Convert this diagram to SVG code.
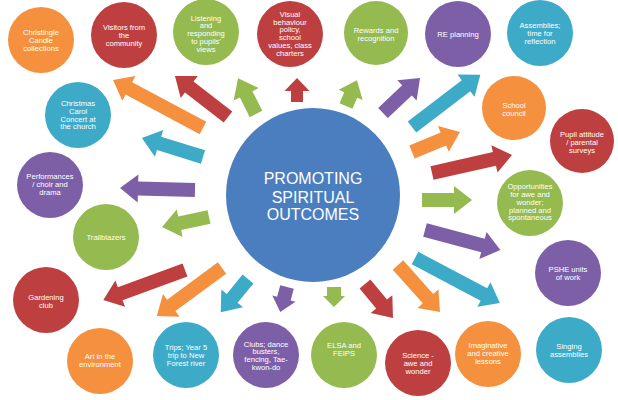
<svg xmlns="http://www.w3.org/2000/svg" width="618" height="400" viewBox="0 0 618 400">
<style>
.o{fill:#F5903E}.r{fill:#BE3F40}.g{fill:#95BA50}.p{fill:#7D5FA8}.t{fill:#3DAAC8}.b{fill:#4A7EBF}
text{font-family:"Liberation Sans",Arial,sans-serif;fill:#fff;text-anchor:middle}
.s{font-size:7.6px}
.c{font-size:16px}
</style>
<rect width="618" height="400" fill="#fff"/>
<g id="connectors">
<polygon class="o" points="0,-7 84,-7 84,-14 102,0 84,14 84,7 0,7" transform="translate(203,128) rotate(-151.9)"/>
<polygon class="r" points="0,-7 49,-7 49,-14 67,0 49,14 49,7 0,7" transform="translate(228,117) rotate(-142.3)"/>
<polygon class="g" points="0,-7 22,-7 22,-14 40,0 22,14 22,7 0,7" transform="translate(256,114) rotate(-116.6)"/>
<polygon class="r" points="0,-6 11,-6 11,-12.5 24,0 11,12.5 11,6 0,6" transform="translate(297,102) rotate(-90)"/>
<polygon class="g" points="0,-7 12,-7 12,-13 28,0 12,13 12,7 0,7" transform="translate(346,106) rotate(-67)"/>
<polygon class="p" points="0,-7 33,-7 33,-14 51,0 33,14 33,7 0,7" transform="translate(383,113) rotate(-43.4)"/>
<polygon class="t" points="0,-7 68,-7 68,-14 86,0 68,14 68,7 0,7" transform="translate(412,127) rotate(-37.4)"/>
<polygon class="o" points="0,-7 34,-7 34,-14 52,0 34,14 34,7 0,7" transform="translate(412,152) rotate(-22.6)"/>
<polygon class="r" points="0,-7 64,-7 64,-14 82,0 64,14 64,7 0,7" transform="translate(432,173) rotate(-12.7)"/>
<polygon class="g" points="0,-7 32,-7 32,-14 50,0 32,14 32,7 0,7" transform="translate(422,200)"/>
<polygon class="p" points="0,-7 60,-7 60,-14 78,0 60,14 60,7 0,7" transform="translate(425,230) rotate(14.9)"/>
<polygon class="t" points="0,-7 78,-7 78,-14 96,0 78,14 78,7 0,7" transform="translate(415,258) rotate(27.9)"/>
<polygon class="o" points="0,-7 45,-7 45,-14 63,0 45,14 45,7 0,7" transform="translate(398,265) rotate(48.2)"/>
<polygon class="r" points="0,-7 26,-7 26,-14 44,0 26,14 26,7 0,7" transform="translate(365,284) rotate(50.5)"/>
<polygon class="g" points="0,-7 9,-7 9,-11 20,0 9,11 9,7 0,7" transform="translate(334,287) rotate(90)"/>
<polygon class="p" points="0,-7 12,-7 12,-12 26,0 12,12 12,7 0,7" transform="translate(287,287) rotate(105)"/>
<polygon class="t" points="0,-7 25,-7 25,-14 43,0 25,14 25,7 0,7" transform="translate(248,279) rotate(129.3)"/>
<polygon class="o" points="0,-7 63,-7 63,-14 81,0 63,14 63,7 0,7" transform="translate(222,268) rotate(143.6)"/>
<polygon class="r" points="0,-7 69,-7 69,-14 87,0 69,14 69,7 0,7" transform="translate(185,270) rotate(159.9)"/>
<polygon class="g" points="0,-7 30,-7 30,-14 48,0 30,14 30,7 0,7" transform="translate(209,217) rotate(168)"/>
<polygon class="p" points="0,-7 57,-7 57,-14 75,0 57,14 57,7 0,7" transform="translate(195,190) rotate(181.5)"/>
<polygon class="t" points="0,-7 46,-7 46,-14 64,0 46,14 46,7 0,7" transform="translate(203,157) rotate(197.3)"/>
</g>
<g id="center">
<circle class="b" cx="313" cy="195" r="87"/>
<text class="c" x="313" y="184">PROMOTING<tspan x="313" dy="18.5">SPIRITUAL</tspan><tspan x="313" dy="17.5">OUTCOMES</tspan></text>
</g>
<g id="n1"><circle class="o" cx="41" cy="40" r="33"/><text class="s" x="41" y="34.9">Christingle<tspan x="41" dy="7.8">Candle</tspan><tspan x="41" dy="7.8">collections</tspan></text></g>
<g id="n2"><circle class="r" cx="124" cy="35" r="33"/><text class="s" x="124" y="29.9">Visitors from<tspan x="124" dy="7.8">the</tspan><tspan x="124" dy="7.8">community</tspan></text></g>
<g id="n3"><circle class="g" cx="206" cy="32" r="33"/><text class="s" x="206" y="20.6">Listening<tspan x="206" dy="7.8">and</tspan><tspan x="206" dy="7.8">responding</tspan><tspan x="206" dy="7.8">to pupils'</tspan><tspan x="206" dy="7.8">views</tspan></text></g>
<g id="n4"><circle class="r" cx="290" cy="34" r="33"/><text class="s" x="290" y="16.7">Visual<tspan x="290" dy="7.8">behaviour</tspan><tspan x="290" dy="7.8">policy,</tspan><tspan x="290" dy="7.8">school</tspan><tspan x="290" dy="7.8">values, class</tspan><tspan x="290" dy="7.8">charters</tspan></text></g>
<g id="n5"><circle class="g" cx="376" cy="33" r="32"/><text class="s" x="376" y="32.8">Rewards and<tspan x="376" dy="7.8">recognition</tspan></text></g>
<g id="n6"><circle class="p" cx="458" cy="34" r="33"/><text class="s" x="458" y="36.7">RE planning</text></g>
<g id="n7"><circle class="t" cx="540" cy="33" r="33"/><text class="s" x="540" y="28.4">Assemblies;<tspan x="540" dy="7.8">time for</tspan><tspan x="540" dy="7.8">reflection</tspan></text></g>
<g id="n8"><circle class="o" cx="514" cy="108" r="32"/><text class="s" x="514" y="108.3">School<tspan x="514" dy="7.8">council</tspan></text></g>
<g id="n9"><circle class="r" cx="582" cy="141" r="32"/><text class="s" x="582" y="137.4">Pupil attitude<tspan x="582" dy="7.8">/ parental</tspan><tspan x="582" dy="7.8">surveys</tspan></text></g>
<g id="n10"><circle class="g" cx="530" cy="203" r="33"/><text class="s" x="530" y="189.1">Opportunities<tspan x="530" dy="7.8">for awe and</tspan><tspan x="530" dy="7.8">wonder;</tspan><tspan x="530" dy="7.8">planned and</tspan><tspan x="530" dy="7.8">spontaneous</tspan></text></g>
<g id="n11"><circle class="p" cx="568" cy="273" r="33"/><text class="s" x="568" y="272.3">PSHE units<tspan x="568" dy="7.8">of work</tspan></text></g>
<g id="n12"><circle class="t" cx="569" cy="350" r="33"/><text class="s" x="569" y="349.3">Singing<tspan x="569" dy="7.8">assemblies</tspan></text></g>
<g id="n13"><circle class="o" cx="488" cy="354" r="33"/><text class="s" x="488" y="348.4">Imaginative<tspan x="488" dy="7.8">and creative</tspan><tspan x="488" dy="7.8">lessons</tspan></text></g>
<g id="n14"><circle class="r" cx="418" cy="363" r="33"/><text class="s" x="418" y="357.9">Science -<tspan x="418" dy="7.8">awe and</tspan><tspan x="418" dy="7.8">wonder</tspan></text></g>
<g id="n15"><circle class="g" cx="344" cy="355" r="33"/><text class="s" x="344" y="348.3">ELSA and<tspan x="344" dy="7.8">FEIPS</tspan></text></g>
<g id="n16"><circle class="p" cx="266" cy="355" r="33"/><text class="s" x="266" y="346.5">Clubs; dance<tspan x="266" dy="7.8">busters,</tspan><tspan x="266" dy="7.8">fencing, Tae-</tspan><tspan x="266" dy="7.8">kwon-do</tspan></text></g>
<g id="n17"><circle class="t" cx="186" cy="355" r="33"/><text class="s" x="186" y="349.9">Trips; Year 5<tspan x="186" dy="7.8">trip to New</tspan><tspan x="186" dy="7.8">Forest river</tspan></text></g>
<g id="n18"><circle class="o" cx="100" cy="361" r="33"/><text class="s" x="100" y="359.3">Art in the<tspan x="100" dy="7.8">environment</tspan></text></g>
<g id="n19"><circle class="r" cx="46" cy="300" r="33"/><text class="s" x="46" y="299.8">Gardening<tspan x="46" dy="7.8">club</tspan></text></g>
<g id="n20"><circle class="g" cx="106" cy="237" r="33"/><text class="s" x="106" y="239.7">Trailblazers</text></g>
<g id="n21"><circle class="p" cx="50" cy="185" r="33"/><text class="s" x="50" y="179.4">Performances<tspan x="50" dy="7.8">/ choir and</tspan><tspan x="50" dy="7.8">drama</tspan></text></g>
<g id="n22"><circle class="t" cx="78" cy="115" r="33"/><text class="s" x="78" y="106">Christmas<tspan x="78" dy="7.8">Carol</tspan><tspan x="78" dy="7.8">Concert at</tspan><tspan x="78" dy="7.8">the church</tspan></text></g>
</svg>
